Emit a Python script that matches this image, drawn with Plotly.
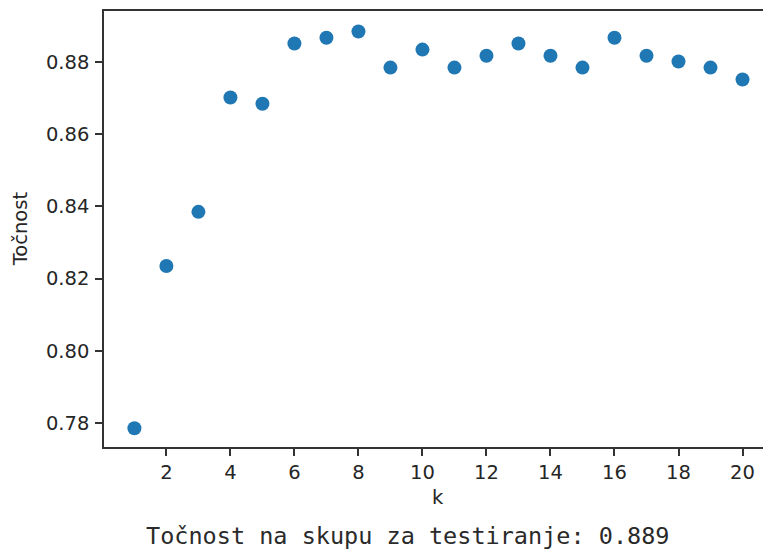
import plotly.graph_objects as go

k_values = list(range(1, 21))
accuracy = [0.7785, 0.8235, 0.8385, 0.8702, 0.8685, 0.8852, 0.8868, 0.8885, 0.8785, 0.8835,
            0.8785, 0.8818, 0.8852, 0.8818, 0.8785, 0.8868, 0.8818, 0.8802, 0.8785, 0.8752]
x_ticks = [2, 4, 6, 8, 10, 12, 14, 16, 18, 20]
y_ticks = [0.78, 0.80, 0.82, 0.84, 0.86, 0.88]
x_label = "k"
y_label = "Točnost"
output_text = "Točnost na skupu za testiranje: 0.889"

W, H = 763, 552
L, T, B = 104, 11, 105

fig = go.Figure()
fig.add_trace(go.Scatter(
    x=k_values, y=accuracy, mode="markers",
    marker=dict(color="#1f77b4", size=14, line=dict(width=0)),
    showlegend=False, hoverinfo="x+y",
))

axis_common = dict(
    showgrid=False, zeroline=False, showline=True, linecolor="#333333", linewidth=1.6,
    ticks="outside", ticklen=7, tickwidth=1.5, tickcolor="#333333",
    tickfont=dict(family="DejaVu Sans", size=19.5, color="#262626"),
)

fig.update_layout(
    width=W, height=H,
    margin=dict(l=L, r=0, t=T, b=B, pad=0),
    paper_bgcolor="white", plot_bgcolor="white",
    xaxis=dict(range=[0.05, 20.64], tickmode="array", tickvals=x_ticks,
               ticktext=[str(v) for v in x_ticks], mirror=True, **axis_common),
    yaxis=dict(range=[0.7733, 0.8942], tickmode="array", tickvals=y_ticks,
               ticktext=[f"{v:.2f}" for v in y_ticks], mirror=False,
               ticklabelstandoff=2, **axis_common),
    annotations=[
        dict(text=x_label, xref="x", yref="paper", x=10.5, y=-0.116, yanchor="middle",
             xanchor="center", showarrow=False,
             font=dict(family="DejaVu Sans", size=19.5, color="#262626")),
        dict(text=y_label, xref="paper", yref="paper", x=-0.127, y=0.5, textangle=-90,
             xanchor="center", yanchor="middle", showarrow=False,
             font=dict(family="DejaVu Sans", size=19.5, color="#262626")),
        dict(text=output_text, xref="paper", yref="paper", x=(407 - L) / (W - L),
             y=-(536 - 447) / (447 - T), xanchor="center", yanchor="middle", showarrow=False,
             font=dict(family="DejaVu Sans Mono", size=23.5, color="#2a2a2a")),
    ],
)

fig.write_html(
    "out.html",
    config={"displayModeBar": False},
    post_script="document.body.style.margin='0';document.body.style.overflow='hidden';",
)
